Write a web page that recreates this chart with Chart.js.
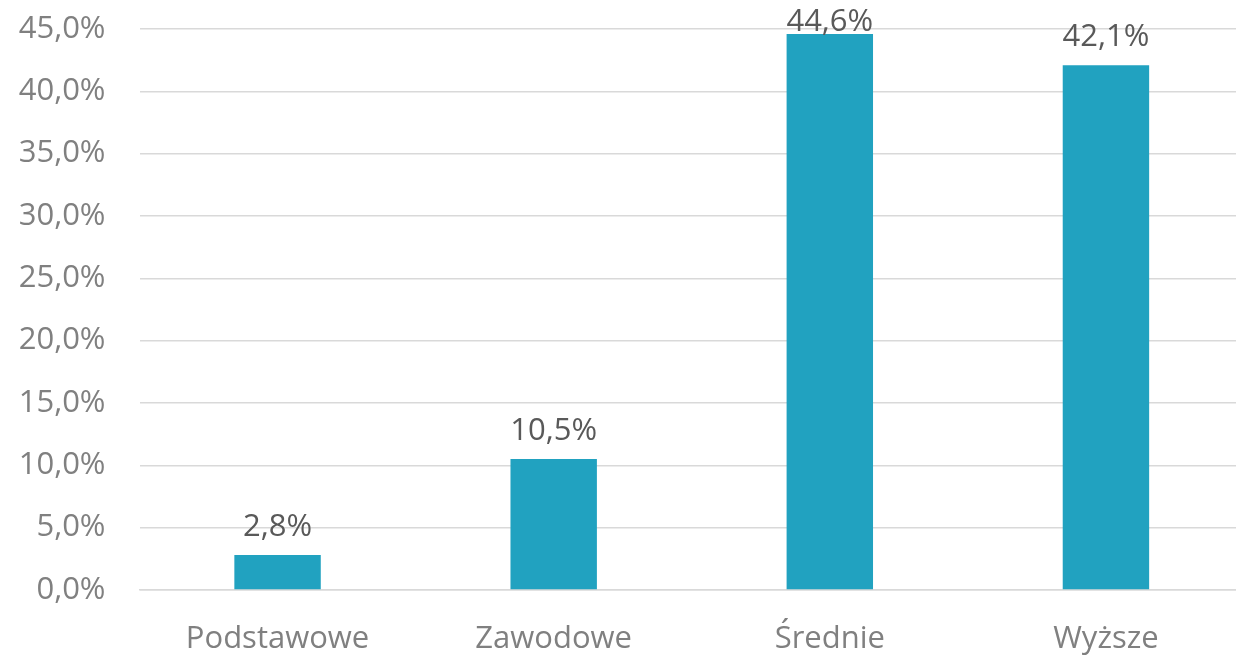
<!DOCTYPE html>
<html>
<head>
<meta charset="utf-8">
<script src="https://cdn.jsdelivr.net/npm/chart.js@4"></script>
<style>
  html, body { margin: 0; padding: 0; background: #fff; overflow: hidden; }
  #wrap { width: 1244px; height: 655px; position: relative; }
</style>
</head>
<body>
<div id="wrap"><canvas id="chart"></canvas></div>
<script>
// ── Data ──
const categories = ['Podstawowe', 'Zawodowe', 'Średnie', 'Wyższe'];
const shares = [2.8, 10.5, 44.6, 42.1];
const yTicks = [0, 5, 10, 15, 20, 25, 30, 35, 40, 45];

const fmt = (v, d) => v.toFixed(d).replace('.', ',') + '%';

// labels above bars (kept inside the canvas like the original)
const barLabels = {
  id: 'barLabels',
  afterDatasetsDraw(chart) {
    const ctx = chart.ctx;
    const meta = chart.getDatasetMeta(0);
    ctx.save();
    ctx.font = '31px "Open Sans"';
    ctx.fillStyle = '#595959';
    ctx.textAlign = 'center';
    ctx.textBaseline = 'alphabetic';
    meta.data.forEach((bar, i) => {
      const y = Math.max(bar.y - 19, 31);
      ctx.fillText(fmt(shares[i], 1), bar.x, y);
    });
    ctx.restore();
  }
};

new Chart(document.getElementById('chart'), {
  type: 'bar',
  data: {
    labels: categories,
    datasets: [{
      data: shares,
      backgroundColor: '#21a2c0',
      categoryPercentage: 1,
      barPercentage: 0.313
    }]
  },
  options: {
    responsive: true,
    maintainAspectRatio: false,
    animation: false,
    layout: { padding: { top: 29, right: 0, bottom: 0, left: 0 } },
    plugins: { legend: { display: false }, tooltip: { enabled: false } },
    scales: {
      x: {
        grid: { display: false, drawTicks: false },
        border: { display: true, color: '#d9d9d9', width: 1.5 },
        ticks: { color: '#808080', font: { family: 'Open Sans', size: 31 }, padding: 31 },
        afterFit(s) { s.height = 65; }
      },
      y: {
        min: 0,
        max: 45,
        afterBuildTicks(s) { s.ticks = yTicks.map(v => ({ value: v })); },
        grid: { color: '#d9d9d9', lineWidth: 1.5, drawTicks: false },
        border: { display: false },
        ticks: {
          color: '#808080',
          font: { family: 'Open Sans', size: 31 },
          padding: 34,
          callback: v => fmt(v, 1)
        },
        afterFit(s) {
          s.width = 139.5;
          s.paddingTop = 0;
          s.paddingBottom = 0;
        }
      }
    }
  },
  plugins: [barLabels]
});
</script>
</body>
</html>
